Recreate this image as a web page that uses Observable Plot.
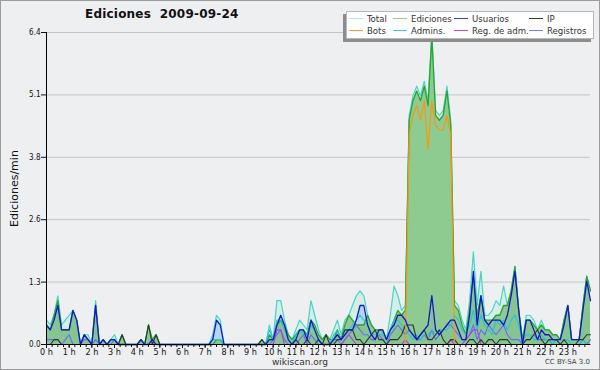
<!DOCTYPE html>
<html><head><meta charset="utf-8">
<script src="https://cdn.jsdelivr.net/npm/d3@7"></script>
<script src="https://cdn.jsdelivr.net/npm/@observablehq/plot@0.6"></script>
<style>
body{margin:0;background:#eeeff1;}
#wrap{position:relative;width:600px;height:370px;background:#eeeff1;overflow:hidden;font-family:"DejaVu Sans",sans-serif;}
#chart{position:absolute;left:0;top:0;}
#title{position:absolute;left:85px;top:7px;font-weight:bold;font-size:12px;letter-spacing:0.2px;white-space:pre;color:#111;}
#legend{position:absolute;left:346px;top:11px;width:246px;height:26px;background:#fff;border:1px solid #b8b8b8;box-shadow:-3px 3px 0 #8c8c8c;font-size:9.5px;color:#333;font-family:"DejaVu Sans Condensed","Liberation Sans",sans-serif;}
.li{position:absolute;white-space:nowrap;line-height:11px;}
.sw{display:inline-block;width:14px;height:0;border-top:1px solid #000;vertical-align:middle;margin-right:4px;position:relative;top:-1px;}
#site{position:absolute;left:0;width:600px;top:357px;text-align:center;font-size:9px;color:#333;}
#cc{position:absolute;right:10px;top:358px;font-size:7px;color:#444;}
#border{position:absolute;left:0;top:0;width:600px;height:370px;box-sizing:border-box;border:1px solid #9c9c9c;pointer-events:none;}
</style></head><body>
<div id="wrap">
  <div id="chart"></div>
  <div id="title">Ediciones  2009-09-24</div>
  <div id="legend"></div>
  <div id="site">wikiscan.org</div>
  <div id="cc">CC BY-SA 3.0</div>
  <div id="border"></div>
</div>
<script>
// edits per minute, one value every 10 minutes (00:00 .. 24:00)
const Total = [
 0.5,0.4,0.6,1.0,0.4,0.5, 0.6,0.7,0.5,0,0.2,0.2, 0,0.9,0,0.1,0,0.1, 0.2,0,0.2,0,0,0,
 0,0.1,0,0.4,0.1,0.2, 0,0,0,0,0,0, 0,0,0,0,0,0, 0,0,0.2,0.6,0.5,0,
 0,0,0,0,0,0, 0,0,0,0.1,0,0.4, 0.1,0.9,0.9,0.5,0.2,0.1, 0.3,0.5,0.4,0.3,0.9,0.6,
 0.3,0.1,0.2,0.1,0.3,0.5, 0.2,0.5,0.6,0.8,1.0,1.1, 1.0,0.6,0.4,0.3,0.3,0.3, 0.1,0.6,1.2,1.0,0.7,0.8,
 4.7,5.1,5.3,5.1,5.4,5.0, 6.4,4.8,4.7,4.8,5.3,4.6, 0.9,0.8,0.5,0.3,0.9,1.9, 0.8,1.5,0.6,0.6,0.7,0.9,
 0.8,1.2,0.8,1.1,1.6,0.7, 0.1,0.6,0.6,0.5,0.3,0.5, 0.3,0.3,0.2,0.2,0.1,0.5, 0.8,0.1,0.1,0.1,0.8,1.4,
 1.1];
const Ediciones = [
 0.4,0.3,0.6,0.9,0.3,0.3, 0.3,0.7,0.5,0,0.2,0.1, 0,0.8,0,0.1,0,0.1, 0.1,0,0.2,0,0,0,
 0,0.1,0,0.4,0.1,0.2, 0,0,0,0,0,0, 0,0,0,0,0,0, 0,0,0,0.1,0.1,0,
 0,0,0,0,0,0, 0,0,0,0.1,0,0.2, 0.1,0.4,0.5,0.4,0.2,0.1, 0.2,0.3,0.3,0.2,0.5,0.4,
 0.2,0.1,0.2,0.1,0.1,0.3, 0.1,0.4,0.6,0.5,0.4,0.4, 0.4,0.6,0.4,0.3,0.3,0.3, 0.1,0.3,0.5,0.7,0.6,0.7,
 4.6,5.0,5.2,5.0,5.3,4.9, 6.3,4.7,4.6,4.7,5.2,4.5, 0.8,0.7,0.4,0.2,0.7,1.4, 0.6,1.0,0.5,0.5,0.5,0.6,
 0.6,0.8,0.8,1.1,1.6,0.7, 0.1,0.5,0.5,0.4,0.3,0.4, 0.3,0.3,0.2,0.2,0.1,0.5, 0.8,0.1,0.1,0.1,0.8,1.4,
 1.1];
const Usuarios = [
 0.4,0.3,0.5,0.8,0.3,0.3, 0.3,0.7,0.5,0,0.2,0.1, 0,0.8,0,0.1,0,0.1, 0.1,0,0,0,0,0,
 0,0.1,0,0,0.1,0, 0,0,0,0,0,0, 0,0,0,0,0,0, 0,0,0.1,0.5,0.4,0,
 0,0,0,0,0,0, 0,0,0,0,0,0.1, 0.1,0.4,0.6,0.4,0.1,0, 0.1,0.3,0.3,0.1,0.5,0.3,
 0.1,0,0,0,0.1,0.2, 0.1,0.2,0.3,0.3,0.5,0.8, 0.8,0.4,0.2,0.1,0.3,0.3, 0.1,0.3,0.4,0.6,0.6,0.5,
 0.3,0.2,0.1,0.2,0.3,0.4, 1.0,0.3,0.2,0.3,0.4,0.5, 0.5,0.3,0.1,0.1,0.6,1.5, 0.4,1.0,0.5,0.4,0.5,0.5,
 0.5,0.4,0.6,1.0,1.5,0.7, 0,0.5,0.5,0.3,0.1,0.3, 0.2,0.2,0.1,0.1,0.1,0.4, 0.8,0.1,0.1,0.1,0.7,1.3,
 0.9];
const IP = [
 0,0,0.1,0.1,0,0, 0,0,0,0,0,0, 0,0,0,0,0,0, 0,0,0.2,0,0,0,
 0,0,0,0.4,0,0.2, 0,0,0,0,0,0, 0,0,0,0,0,0, 0,0,0,0,0,0,
 0,0,0,0,0,0, 0,0,0,0.1,0,0, 0,0,0,0,0,0, 0.1,0,0,0.1,0,0,
 0.1,0,0.2,0,0,0.1, 0.1,0.3,0.3,0.3,0.1,0.1, 0,0.1,0.2,0.3,0.1,0.1, 0,0.1,0.1,0.1,0.2,0.4,
 0.4,0.4,0.1,0.2,0.3,0.1, 0.1,0.2,0.3,0.1,0,0.1, 0.1,0,0,0,0.1,0.1, 0,0.1,0,0.1,0.1,0,
 0.1,0.1,0.1,0,0,0, 0,0.1,0.1,0.2,0.3,0.1, 0,0.1,0.1,0.1,0,0.1, 0,0,0,0.1,0.1,0.2,
 0.2];
const Bots = [
 0,0,0,0,0,0, 0,0,0,0,0,0, 0,0,0,0,0,0, 0,0,0,0,0,0,
 0,0,0,0,0,0, 0,0,0,0,0,0, 0,0,0,0,0,0, 0,0,0,0,0,0,
 0,0,0,0,0,0, 0,0,0,0,0,0, 0,0,0,0,0,0, 0,0,0,0,0,0,
 0,0,0,0,0,0, 0,0,0,0,0,0, 0,0,0,0,0,0, 0,0,0,0,0,0,
 4.3,4.7,4.9,4.6,5.0,4.0, 5.0,4.5,4.4,4.4,4.7,4.3, 0,0,0,0,0,0, 0,0,0,0,0,0,
 0,0,0,0,0,0, 0,0,0,0,0,0, 0,0,0,0,0,0, 0,0,0,0,0,0,
 0];
const Admins = [
 0,0,0,0,0,0, 0,0,0,0,0,0, 0,0,0,0,0,0, 0,0,0,0,0,0,
 0,0,0,0,0,0, 0,0,0,0,0,0, 0,0,0,0,0,0, 0,0,0.1,0.1,0.1,0,
 0,0,0,0,0,0, 0,0,0,0,0,0.3, 0.1,0.5,0.5,0.3,0.1,0, 0.2,0.3,0.2,0.2,0.4,0.3,
 0.1,0,0,0,0.2,0.3, 0.1,0.3,0.3,0.4,0.5,0.6, 0.5,0.4,0.2,0.2,0.2,0.2, 0.1,0.3,0.5,0.5,0.4,0.3,
 0.2,0.1,0.2,0.1,0.2,0.2, 0.3,0.2,0.3,0.3,0.3,0.4, 0.6,0.5,0.3,0.2,0.4,0.7, 0.3,0.6,0.4,0.3,0.2,0.5,
 0.4,0.5,0.3,0.5,0.6,0.4, 0.1,0.2,0.2,0.1,0.1,0.2, 0.1,0.1,0,0.1,0,0.1, 0.1,0,0,0,0.1,0,
 0];
const RegAdm = [
 0,0,0,0,0,0, 0,0,0,0,0,0, 0,0,0,0,0,0, 0,0,0,0,0,0,
 0,0,0,0,0,0, 0,0,0,0,0,0, 0,0,0,0,0,0, 0,0,0,0,0,0,
 0,0,0,0,0,0, 0,0,0,0,0,0, 0,0.3,0.3,0,0,0, 0,0,0,0,0,0,
 0,0,0,0,0,0, 0,0.1,0.2,0.1,0,0, 0,0,0,0,0,0, 0,0,0,0,0,0.1,
 0,0,0,0,0,0, 0,0,0,0,0,0.1, 0,0,0,0.1,0.2,0.3, 0.3,0,0,0,0,0,
 0,0,0,0,0,0, 0,0,0,0,0,0, 0,0,0,0,0,0, 0,0,0,0,0,0,
 0];
const Registros = [
 0.1,0.1,0.1,0.1,0,0.1, 0.2,0,0,0,0.1,0.1, 0,0.1,0,0,0,0, 0.1,0,0,0,0,0,
 0,0,0,0,0,0, 0,0,0,0,0,0, 0,0,0,0,0,0, 0,0,0,0,0,0,
 0,0,0,0,0,0, 0,0,0,0,0,0, 0.1,0.2,0.3,0.1,0,0, 0,0.1,0.2,0,0.2,0.1,
 0,0,0,0,0.1,0.1, 0,0.1,0.2,0.3,0.4,0.3, 0.2,0.2,0.1,0.1,0.2,0.1, 0,0.2,0.3,0.4,0.3,0.2,
 0.3,0.2,0.1,0.1,0.2,0.1, 0.3,0.1,0.2,0.3,0.4,0.4, 0.3,0.2,0.1,0.1,0.2,0.4, 0.1,0.3,0.2,0.4,0.3,0.2,
 0.3,0.4,0.2,0.1,0.1,0.1, 0,0.1,0.1,0.2,0.1,0.1, 0.1,0.1,0,0.1,0,0, 0,0,0,0,0.1,0,
 0.1];

const seriesNames  = ["Total","Ediciones","Usuarios","IP","Bots","Admins.","Reg. de adm.","Registros"];
const legendColors = ["#ade6e6","#8fd08f","#3a3ad6","#333333","#ff9a2e","#3ccbdc","#c544ea","#7b7bf0"];
const yTicks = [0, 1.28, 2.56, 3.84, 5.12, 6.4];
const yTickLabels = ["0.0","1.3","2.6","3.8","5.1","6.4"];
const hourLabels = d3.range(0, 24).map(h => h + " h");

const minutes = Total.map((_, i) => i * 10);
const rows = arr => arr.map((v, i) => ({t: minutes[i], v}));

const line = (arr, color, w = 1.1) => Plot.line(rows(arr), {x: "t", y: "v", stroke: color, strokeWidth: w});

const chart = Plot.plot({
  width: 600, height: 370,
  marginLeft: 46, marginRight: 10, marginTop: 32, marginBottom: 26,
  style: {background: "transparent", fontFamily: "'DejaVu Sans Condensed', 'Liberation Sans', sans-serif", color: "#111"},
  x: {domain: [0, 1440]},
  y: {domain: [0, 6.4]},
  marks: [
    Plot.gridY(yTicks, {stroke: "#c4c4c4", strokeOpacity: 1}),
    Plot.areaY(rows(Total), {x: "t", y: "v", fill: "#d2eee7", fillOpacity: 0.9}),
    Plot.areaY(rows(Usuarios), {x: "t", y: "v", fill: "#a6cbe8", fillOpacity: 0.7}),
    Plot.areaY(rows(Ediciones), {x: "t", y: "v", fill: "#78c078", fillOpacity: 0.78}),
    line(Total, "#44d6c6", 1.2),
    line(Ediciones, "#2fa32f", 1.3),
    line(Registros, "#6a6af5"),
    line(Admins, "#24c4da"),
    line(RegAdm, "#b43ae8"),
    line(IP, "#333333"),
    line(Bots, "#ff9410", 1.2),
    line(Usuarios, "#1616c8", 1.3),
    Plot.ruleX([0], {stroke: "#000"}),
    Plot.ruleY([0], {stroke: "#000"}),
    Plot.axisY(yTicks, {tickSize: 5, tickPadding: 1, fontSize: 8,
      tickFormat: d => yTickLabels[yTicks.indexOf(d)],
      label: "Ediciones/min", labelAnchor: "center", labelOffset: 36, labelArrow: "none"}),
    Plot.axisX(d3.range(0, 1440, 15), {tickSize: 3, tickFormat: () => "", label: null}),
    Plot.axisX(d3.range(0, 1440, 60), {tickSize: 4, tickPadding: 0, fontSize: 9,
      tickFormat: d => hourLabels[d / 60], label: null})
  ]
});
document.getElementById("chart").appendChild(chart);
chart.querySelectorAll("text").forEach(t => {
  if (t.textContent === "Ediciones/min") { t.setAttribute("font-size", "11"); t.style.fontFamily = "DejaVu Sans"; }
});

// legend
const legend = document.getElementById("legend");
const colX = [2, 46, 107, 182];
seriesNames.forEach((name, i) => {
  const d = document.createElement("div");
  d.className = "li";
  d.style.left = colX[i % 4] + "px";
  d.style.top = (i < 4 ? 1 : 13) + "px";
  d.innerHTML = `<span class="sw" style="border-color:${legendColors[i]}"></span>${name}`;
  legend.appendChild(d);
});
</script>
</body></html>
